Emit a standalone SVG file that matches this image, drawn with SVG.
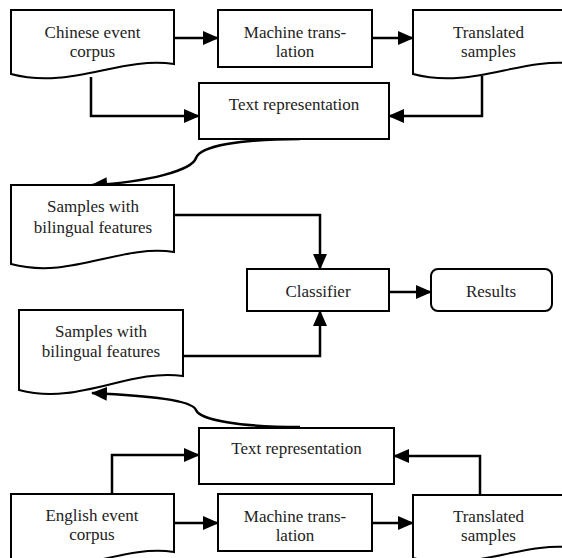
<svg xmlns="http://www.w3.org/2000/svg" width="562" height="558" viewBox="0 0 562 558">
<style>
.shape{fill:#fff;stroke:#000;stroke-width:2}
.con{fill:none;stroke:#000;stroke-width:2.5}
text{font-family:"Liberation Serif","Times New Roman",serif;font-size:17px;fill:#222;text-anchor:middle}
</style>
<defs>
<marker id="ah" viewBox="0 0 16 14" refX="15" refY="7" markerWidth="16" markerHeight="14" markerUnits="userSpaceOnUse" orient="auto">
<path d="M0,0 L16,7 L0,14 z" fill="#000"/>
</marker>
</defs>
<rect width="562" height="558" fill="#fff"/>

<g id="connectors">
<path class="con" d="M174,38 H218" marker-end="url(#ah)"/>
<path class="con" d="M372,38 H413" marker-end="url(#ah)"/>
<path class="con" d="M91,77 V116 H199" marker-end="url(#ah)"/>
<path class="con" d="M482,76 V116 H389" marker-end="url(#ah)"/>
<path class="con" d="M300,139 C240,139 200,146 196,158 C192,170 150,182 92,185" marker-end="url(#ah)"/>
<path class="con" d="M174,215 H320 V269" marker-end="url(#ah)"/>
<path class="con" d="M183,356 H320 V311" marker-end="url(#ah)"/>
<path class="con" d="M389,292 H431" marker-end="url(#ah)"/>
<path class="con" d="M300,427 C240,427 200,420 196,410 C192,400 150,396 92,393" marker-end="url(#ah)"/>
<path class="con" d="M112,494 V455 H199" marker-end="url(#ah)"/>
<path class="con" d="M480,495 V456 H394" marker-end="url(#ah)"/>
<path class="con" d="M174,523 H218" marker-end="url(#ah)"/>
<path class="con" d="M372,523 H413" marker-end="url(#ah)"/>
</g>

<g id="chinese-corpus">
<path class="shape" d="M11,10 H174 V64 C120,56 70,90 11,74 Z"/>
<text x="92.5" y="37.5">Chinese event</text>
<text x="92.5" y="57">corpus</text>
</g>
<g id="mt-top">
<rect class="shape" x="218" y="10" width="154" height="57"/>
<text x="295" y="37.5">Machine trans-</text>
<text x="295" y="57">lation</text>
</g>
<g id="translated-top">
<path class="shape" d="M413,10 H576 V64 C522,56 472,90 413,74 Z"/>
<text x="488.5" y="37.5">Translated</text>
<text x="488.5" y="57">samples</text>
</g>
<g id="textrep-top">
<rect class="shape" x="199" y="83" width="190" height="56"/>
<text x="294" y="110">Text representation</text>
</g>
<g id="samples-1">
<path class="shape" d="M11,185 H174 V252 C120,244 70,280 11,264 Z"/>
<text x="93" y="212">Samples with</text>
<text x="93" y="232.5">bilingual features</text>
</g>
<g id="classifier">
<rect class="shape" x="247" y="269" width="142" height="42"/>
<text x="318" y="296.5">Classifier</text>
</g>
<g id="results">
<rect class="shape" x="431" y="269" width="121" height="42" rx="7"/>
<text x="491" y="296.5">Results</text>
</g>
<g id="samples-2">
<path class="shape" d="M19,310 H183 V376 C129,368 79,406 19,390 Z"/>
<text x="101" y="337">Samples with</text>
<text x="101" y="356.5">bilingual features</text>
</g>
<g id="textrep-bottom">
<rect class="shape" x="199" y="428" width="195" height="56"/>
<text x="296.5" y="454">Text representation</text>
</g>
<g id="english-corpus">
<path class="shape" d="M11,494 H174 V552 C120,544 70,580 11,564 Z"/>
<text x="92" y="520.5">English event</text>
<text x="92" y="539.5">corpus</text>
</g>
<g id="mt-bottom">
<rect class="shape" x="218" y="494" width="154" height="57"/>
<text x="295" y="521.5">Machine trans-</text>
<text x="295" y="540.5">lation</text>
</g>
<g id="translated-bottom">
<path class="shape" d="M413,495 H576 V548 C522,540 472,574 413,558 Z"/>
<text x="488.5" y="521.5">Translated</text>
<text x="488.5" y="540.5">samples</text>
</g>
</svg>
